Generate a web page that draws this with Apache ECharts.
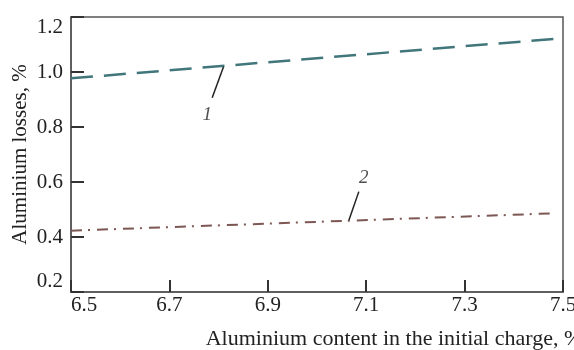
<!DOCTYPE html>
<html>
<head>
<meta charset="utf-8">
<script src="https://cdn.jsdelivr.net/npm/echarts@6/dist/echarts.min.js"></script>
<style>
  html, body { margin: 0; padding: 0; background: #fff; }
  #chart { width: 574px; height: 350px; }
</style>
</head>
<body>
<div id="chart"></div>
<script>
// curve 1 (dashed) and curve 2 (dash-dot)
const alContent1 = [6.5, 7.5];
const losses1 = [0.977, 1.123];
const alContent2 = [6.5, 7.48];
const losses2 = [0.423, 0.486];

// leader lines and curve numbers, in data units
const leader1X = [6.810, 6.787];
const leader1Y = [1.019, 0.906];
const leader2X = [7.085, 7.065];
const leader2Y = [0.565, 0.462];
const curveNames = ['1', '2'];
const curveNameX = [6.777, 7.095];
const curveNameY = [0.844, 0.615];

const xTicks = [6.5, 6.7, 6.9, 7.1, 7.3, 7.5];
const yTicks = [0.2, 0.4, 0.6, 0.8, 1.0, 1.2];

const zip = (xs, ys) => xs.map((x, i) => [x, ys[i]]);

const font = 'Liberation Serif';
const textColor = '#222';
const axisColor = '#555';

const chart = echarts.init(document.getElementById('chart'));

chart.setOption({
  animation: false,
  grid: {
    left: 71, right: 11, top: 17, bottom: 58,
    outerBoundsMode: 'none',
    show: true,
    borderColor: axisColor,
    borderWidth: 1.5,
    backgroundColor: 'transparent'
  },
  xAxis: {
    type: 'value',
    min: xTicks[0],
    max: xTicks[xTicks.length - 1],
    name: 'Aluminium content in the initial charge, %',
    nameLocation: 'middle',
    nameGap: 36,
    nameTextStyle: { fontFamily: font, fontSize: 22, color: textColor, padding: [0, 0, 0, 154] },
    axisLine: { lineStyle: { color: axisColor, width: 1.5 } },
    axisTick: { inside: true, length: 12, customValues: xTicks, lineStyle: { color: '#333', width: 2 } },
    axisLabel: {
      customValues: xTicks,
      margin: 3,
      fontFamily: font, fontSize: 21, color: textColor,
      alignMinLabel: 'left',
      formatter: v => v.toFixed(1)
    },
    splitLine: { show: false }
  },
  yAxis: {
    type: 'value',
    min: yTicks[0],
    max: yTicks[yTicks.length - 1],
    interval: 0.2,
    name: 'Aluminium losses, %',
    nameLocation: 'middle',
    nameGap: 40,
    nameMoveOverlap: false,
    nameTextStyle: { fontFamily: font, fontSize: 21, color: textColor },
    axisLine: { lineStyle: { color: axisColor, width: 1.5 } },
    axisTick: { inside: true, length: 13, lineStyle: { color: '#333', width: 2 } },
    axisLabel: {
      margin: 8,
      fontFamily: font, fontSize: 21, color: textColor,
      verticalAlignMinLabel: 'bottom',
      verticalAlignMaxLabel: 'top',
      formatter: v => v.toFixed(1)
    },
    splitLine: { show: false }
  },
  series: [
    {
      name: '1',
      type: 'line',
      data: zip(alContent1, losses1),
      showSymbol: false,
      lineStyle: { color: '#41767a', width: 2.5, type: [22, 11] }
    },
    {
      name: '2',
      type: 'line',
      data: zip(alContent2, losses2),
      showSymbol: false,
      lineStyle: { color: '#7d5753', width: 2, type: [11, 6, 2, 7] }
    },
    {
      type: 'line',
      data: zip(leader1X, leader1Y),
      showSymbol: false,
      lineStyle: { color: '#222', width: 1.5 }
    },
    {
      type: 'line',
      data: zip(leader2X, leader2Y),
      showSymbol: false,
      lineStyle: { color: '#222', width: 1.5 }
    },
    {
      type: 'scatter',
      symbolSize: 0,
      data: curveNames.map((n, i) => ({ name: n, value: [curveNameX[i], curveNameY[i]] })),
      label: {
        show: true,
        position: 'inside',
        formatter: p => p.name,
        fontFamily: font,
        fontStyle: 'italic',
        fontSize: 19,
        color: textColor
      }
    }
  ]
});
</script>
</body>
</html>
